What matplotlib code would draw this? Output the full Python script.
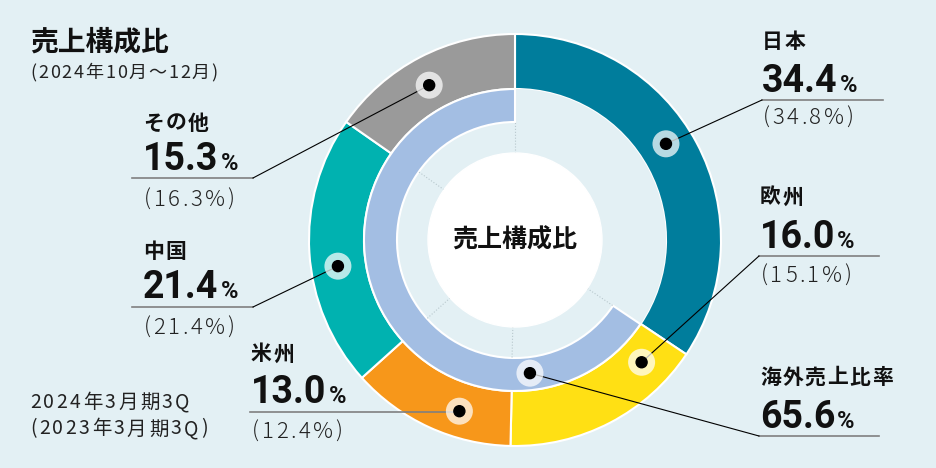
import matplotlib.pyplot as plt
from matplotlib.patches import Circle
import numpy as np

plt.rcParams['font.family'] = ['Noto Sans CJK JP', 'DejaVu Sans']

# データ（2024年10月～12月、括弧内は前年同期）
regions = ['日本', '欧州', '米州', '中国', 'その他']
share = [34.4, 16.0, 13.0, 21.4, 15.3]
share_prev = [34.8, 15.1, 12.4, 21.4, 16.3]
overseas_label = '海外売上比率'
overseas_share = 65.6

colors = ['#007d9c', '#ffe014', '#f7971a', '#00b2b0', '#9a9a9a']
BG = '#e3f0f4'
RING_BLUE = '#a3bee3'

W, H = 936, 468
CX, CY = 515, 240


def polar(r, deg):
    # deg: 12時方向から時計回り（画面座標, y下向き）
    a = np.radians(deg)
    return CX + r * np.sin(a), CY - r * np.cos(a)


fig = plt.figure(figsize=(W / 100, H / 100), dpi=100)
fig.patch.set_facecolor(BG)
ax = fig.add_axes([0, 0, 1, 1])
ax.set_facecolor(BG)

# 外側リング（地域別）
ax.pie(share, radius=206, center=(CX, CY), startangle=-90, counterclock=True,
       colors=colors, wedgeprops=dict(width=55, edgecolor='white', linewidth=1.5))

# 内側リング（日本 / 海外）
inner, _ = ax.pie([share[0], overseas_share], radius=151, center=(CX, CY),
                  startangle=-90, counterclock=True, colors=[BG, RING_BLUE],
                  wedgeprops=dict(width=33, edgecolor='white', linewidth=1.5))
inner[0].set_linewidth(0)

# 区切りの点線
bounds = np.cumsum([0] + share[:-1])
for b in bounds:
    x0, y0 = polar(87, 360 * b / 100)
    x1, y1 = polar(118, 360 * b / 100)
    ax.plot([x0, x1], [y0, y1], ls=':', color='#b8c8cd', lw=0.8)

ax.add_patch(Circle((CX, CY), 87, color='white', zorder=3))
ax.text(CX, CY, '売上構成比', ha='center', va='center', fontsize=18,
        fontweight='bold', color='#111', zorder=4)

ax.set_xlim(0, W)
ax.set_ylim(H, 0)
ax.axis('off')

# マーカー位置（角度, 半径）
marker_pos = [(57.5, 179), (134, 176), (198, 180), (261.6, 179), (331, 177)]
overseas_pos = (173.6, 134)

# ラベル配置: x, 名前y, 数値ベースライン, 罫線y, 罫線x0, 罫線x1, 前年y, 引出線の端
label_pos = [
    (762, 42, 92, 100, 762, 883, 118, (762, 100)),
    (760, 197, 248, 256, 759, 879, 276, (759, 256)),
    (251, 354, 403, 412, 250, None, 432, None),
    (143, 251, 298, 307, 132, 253, 328, (253, 307)),
    (143, 123, 170, 178, 132, 253, 200, (253, 178)),
]

renderer = fig.canvas.get_renderer()


def spaced(x, y, s, gap, **kw):
    # 字間をあけて1文字ずつ置く
    for ch in s:
        t = ax.text(x, y, ch, ha='left', **kw)
        x = t.get_window_extent(renderer).x1 + gap


def big_number(x, y, value):
    t = ax.text(x, y, f'{value:.1f}', fontsize=27, fontweight='bold',
                family=['Roboto', 'DejaVu Sans'], va='baseline', ha='left', color='#111')
    x_end = t.get_window_extent(renderer).x1
    ax.text(x_end + 2, y, '%', fontsize=17, fontweight='bold',
            family=['Roboto', 'DejaVu Sans'], va='baseline', ha='left', color='#111')


def marker(pos):
    mx, my = polar(pos[1], pos[0])
    ax.add_patch(Circle((mx, my), 13.5, color='white', alpha=0.72, zorder=5, lw=0))
    ax.add_patch(Circle((mx, my), 5.5, color='black', zorder=6))
    return mx, my


name_kw = dict(fontsize=15, fontweight='bold', va='center', color='#111')
sub_kw = dict(fontsize=16, fontweight='light', va='center', color='#222')

for name, val, prev, mp, lp in zip(regions, share, share_prev, marker_pos, label_pos):
    x, yn, yb, yr, rx0, rx1, yp, lead = lp
    mx, my = marker(mp)
    if rx1 is None:
        rx1 = mx
    ax.plot([rx0, rx1], [yr, yr], color='#808080', lw=1.2, zorder=4)
    if lead is not None:
        ax.plot([lead[0], mx], [lead[1], my], color='black', lw=0.8, zorder=4)
    spaced(x, yn, name, 1.5, **name_kw)
    big_number(x, yb, val)
    spaced(x + 1, yp, f'({prev:.1f}%)', 2.5, **sub_kw)

# 海外売上比率
mx, my = marker(overseas_pos)
ax.plot([759, 879], [436, 436], color='#808080', lw=1.2, zorder=4)
ax.plot([759, mx], [436, my], color='black', lw=0.8, zorder=4)
spaced(760, 377, overseas_label, 1.5, **name_kw)
big_number(760, 428, overseas_share)

# タイトル・注記
ax.text(30, 42, '売上構成比', fontsize=20, fontweight='bold', va='center', ha='left', color='#111')
spaced(30, 73, '(2024年10月～12月)', 1.8, fontsize=13, va='center', color='#222')
note_kw = dict(fontsize=14, va='center', color='#222')
spaced(30, 402, '2024年3月期3Q', 2.4, **note_kw)
spaced(30, 429, '(2023年3月期3Q)', 2.4, **note_kw)

fig.savefig('out.png', dpi=100, facecolor=BG)
